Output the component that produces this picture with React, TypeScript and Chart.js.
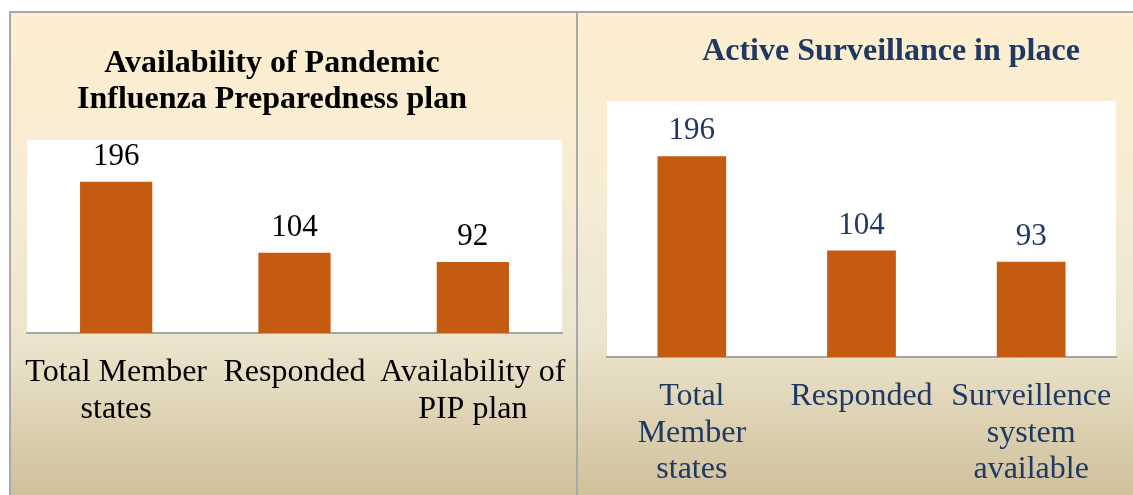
import React, { useEffect, useRef } from "react";
import { Chart, registerables } from "chart.js";

Chart.register(...registerables);

// ---------- data ----------
const leftCategories: string[][] = [["Total Member", "states"], ["Responded"], ["Availability of", "PIP plan"]];
const leftValues: number[] = [196, 104, 92];
const rightCategories: string[][] = [["Total", "Member", "states"], ["Responded"], ["Surveillence", "system", "available"]];
const rightValues: number[] = [196, 104, 93];
const yMin = 0;
const yMax = 250;
const leftTitle: string[] = ["Availability of Pandemic", "Influenza Preparedness plan"];
const rightTitle: string[] = ["Active Surveillance in place"];

// ---------- style ----------
const FONT = "'Liberation Serif', 'Times New Roman', serif";
const BAR = "#C55A11";
const NAVY = "#1F3864";
const BLACK = "#000000";

const plotBg = {
  id: "plotBg",
  beforeDraw(chart: any) {
    const { ctx, chartArea } = chart;
    ctx.save();
    ctx.fillStyle = "#ffffff";
    ctx.fillRect(chartArea.left, chartArea.top, chartArea.right - chartArea.left, chartArea.bottom - chartArea.top);
    ctx.restore();
  },
};

const valueLabels = {
  id: "valueLabels",
  afterDatasetsDraw(chart: any, _args: any, opts: any) {
    const { ctx } = chart;
    const meta = chart.getDatasetMeta(0);
    const data = chart.data.datasets[0].data;
    ctx.save();
    ctx.font = `${opts.size}px ${FONT}`;
    ctx.fillStyle = opts.color;
    ctx.textAlign = "center";
    ctx.textBaseline = "alphabetic";
    meta.data.forEach((el: any, i: number) => {
      ctx.fillText(String(data[i]), el.x, el.y - opts.gap);
    });
    ctx.restore();
  },
};

const panelTitle = {
  id: "panelTitle",
  afterDraw(chart: any, _args: any, opts: any) {
    const { ctx } = chart;
    ctx.save();
    ctx.font = `bold ${opts.size}px ${FONT}`;
    ctx.fillStyle = opts.color;
    ctx.textAlign = "center";
    ctx.textBaseline = "alphabetic";
    opts.lines.forEach((line: string, i: number) => {
      ctx.fillText(line, opts.x, opts.y + i * opts.lineGap);
    });
    ctx.restore();
  },
};

type PanelProps = {
  categories: string[][];
  values: number[];
  title: string[];
  color: string;
  pad: { left: number; right: number; top: number };
  axisHeight: number;
  titlePos: { x: number; y: number };
};

function BarPanel(props: PanelProps) {
  const ref = useRef<HTMLCanvasElement | null>(null);
  useEffect(() => {
    if (!ref.current) return;
    const chart = new Chart(ref.current, {
      type: "bar",
      data: {
        labels: props.categories,
        datasets: [
          {
            data: props.values,
            backgroundColor: BAR,
            borderWidth: 0,
            categoryPercentage: 1,
            barPercentage: 0.405,
          },
        ],
      },
      options: {
        animation: false,
        responsive: true,
        maintainAspectRatio: false,
        layout: { padding: { left: props.pad.left, right: props.pad.right, top: props.pad.top, bottom: 0 } },
        plugins: {
          legend: { display: false },
          tooltip: { enabled: false },
          valueLabels: { size: 31, color: props.color, gap: 17 },
          panelTitle: { lines: props.title, x: props.titlePos.x, y: props.titlePos.y, lineGap: 36, size: 32, color: props.color },
        } as any,
        scales: {
          x: {
            grid: { display: true, drawOnChartArea: false, drawTicks: false },
            border: { display: true, color: "#a6a6a6", width: 2 },
            ticks: {
              color: props.color,
              font: { family: FONT, size: 32, lineHeight: 1.15 },
              padding: 21,
              maxRotation: 0,
              minRotation: 0,
              autoSkip: false,
            },
            afterFit: (s: any) => {
              s.height = props.axisHeight;
              s.paddingLeft = 0;
              s.paddingRight = 0;
            },
          },
          y: { display: false, min: yMin, max: yMax },
        },
      },
      plugins: [plotBg, valueLabels, panelTitle],
    });
    return () => chart.destroy();
  }, []);
  return <canvas ref={ref} />;
}

export default function App() {
  return (
    <div style={{ position: "absolute", left: 0, top: 0, width: 1133, height: 495, background: "#ffffff", overflow: "hidden" }}>
      <div
        style={{
          position: "absolute",
          left: 9,
          top: 11,
          width: 1124,
          height: 484,
          boxSizing: "border-box",
          borderLeft: "2px solid #a8a8a8",
          borderTop: "2px solid #a8a8a8",
          background: "linear-gradient(to bottom, #fdeecf 0%, #f6ecd5 40%, #ece4cd 68%, #ddd1b2 85%, #d0c19c 100%)",
        }}
      />
      <div style={{ position: "absolute", left: 576, top: 11, width: 2, height: 484, background: "#a8a8a8" }} />
      <div style={{ position: "absolute", left: 9, top: 11, width: 567, height: 484 }}>
        <BarPanel
          categories={leftCategories}
          values={leftValues}
          title={leftTitle}
          color={BLACK}
          pad={{ left: 18, right: 14, top: 129 }}
          axisHeight={162}
          titlePos={{ x: 263, y: 61 }}
        />
      </div>
      <div style={{ position: "absolute", left: 578, top: 11, width: 555, height: 484 }}>
        <BarPanel
          categories={rightCategories}
          values={rightValues}
          title={rightTitle}
          color={NAVY}
          pad={{ left: 29, right: 17, top: 90 }}
          axisHeight={138}
          titlePos={{ x: 313, y: 49 }}
        />
      </div>
    </div>
  );
}
